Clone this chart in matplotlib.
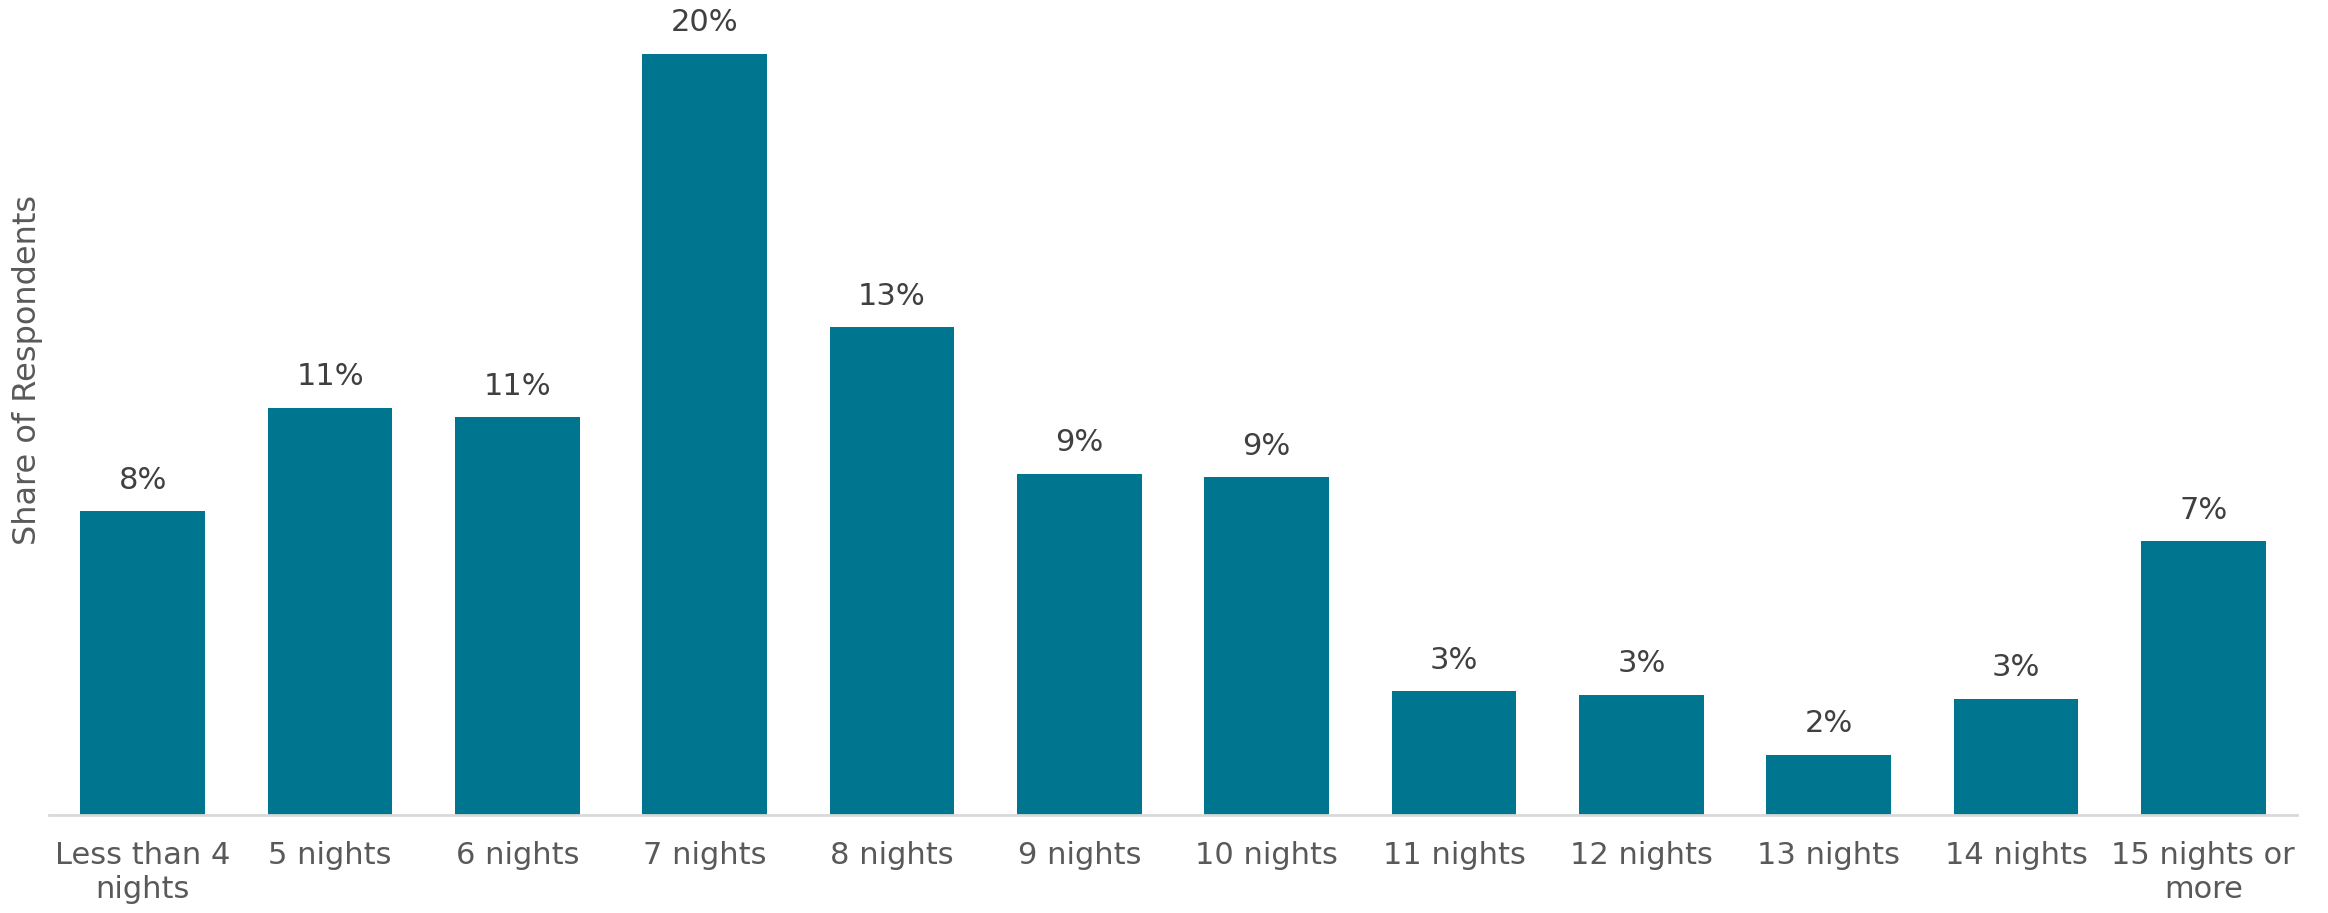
import matplotlib
matplotlib.use("Agg")
import matplotlib.pyplot as plt

categories = ["Less than 4\nnights", "5 nights", "6 nights", "7 nights", "8 nights",
              "9 nights", "10 nights", "11 nights", "12 nights", "13 nights",
              "14 nights", "15 nights or\nmore"]
share = [8.1, 10.85, 10.6, 20.3, 13.0, 9.1, 9.0, 3.3, 3.2, 1.6, 3.1, 7.3]

W, H = 2328, 913
fig = plt.figure(figsize=(W / 100, H / 100), dpi=100)
plt.rcParams["font.family"] = ["DejaVu Sans"]

# axes box in pixel terms
left, right, bottom, top = 49, 2297, 815, 0
ax = fig.add_axes([left / W, 1 - bottom / H, (right - left) / W, (bottom - top) / H])

bar_color = "#00758F"
x = range(len(categories))
bars = ax.bar(x, share, width=0.665, color=bar_color, zorder=2)

ax.set_xlim(-0.5, len(categories) - 0.5)
ax.set_ylim(0, 815 / 37.5)

for b, v in zip(bars, share):
    ax.annotate(f"{v:.0f}%", (b.get_x() + b.get_width() / 2, v),
                xytext=(0, 12), textcoords="offset points",
                ha="center", va="bottom", fontsize=22, color="#404040")

ax.set_xticks(list(x))
ax.set_xticklabels(categories, fontsize=22, color="#595959", linespacing=1.2)
ax.tick_params(axis="x", length=0, pad=19)
ax.set_yticks([])

for s in ["top", "right", "left"]:
    ax.spines[s].set_visible(False)
ax.spines["bottom"].set_color("#d9d9d9")
ax.spines["bottom"].set_linewidth(2)

fig.text(28 / W, 1 - 370 / H, "Share of Respondents", rotation=90,
         ha="center", va="center", fontsize=23, color="#595959")

fig.savefig("out.png", dpi=100)
